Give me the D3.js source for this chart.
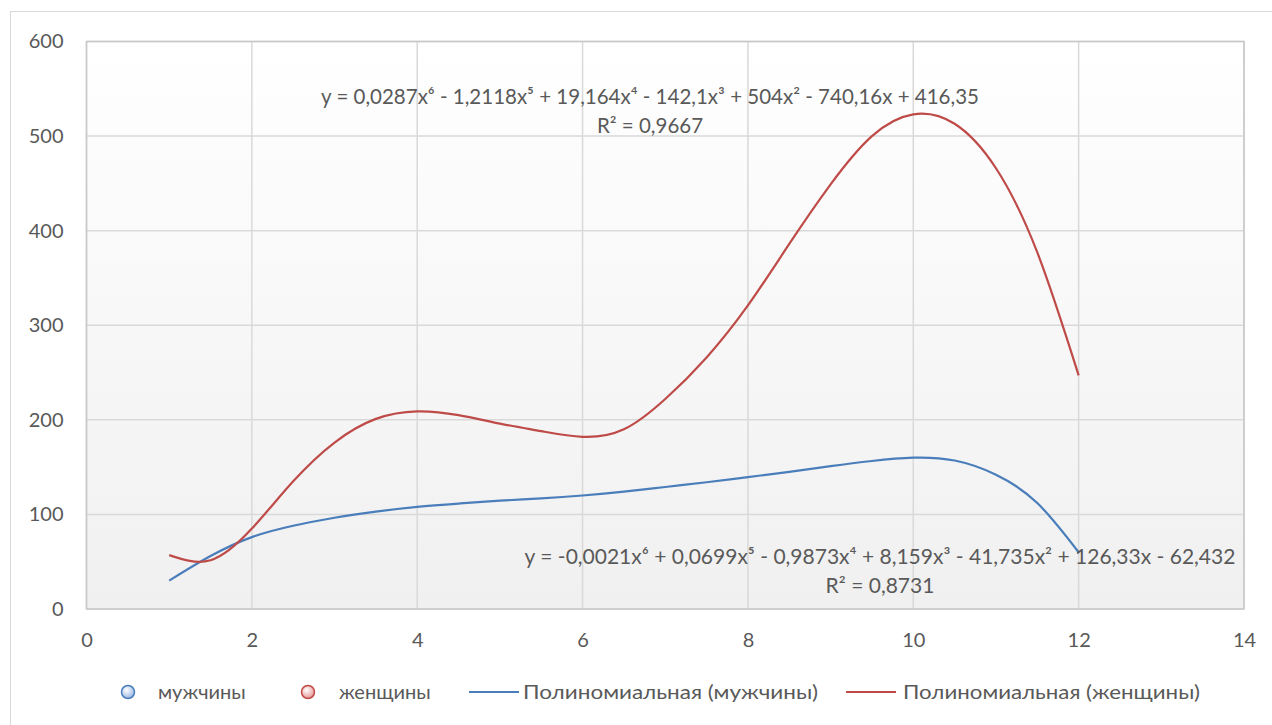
<!DOCTYPE html>
<html lang="ru">
<head>
<meta charset="UTF-8">
<title>Полиномиальные тренды</title>
<script src="https://cdn.jsdelivr.net/npm/d3@7"></script>
<style>
  body { margin: 0; background: #fff; }
  text { font-family: Lato, "Open Sans", sans-serif; fill: #595959; }
</style>
</head>
<body>
<div id="chart"></div>
<script>
// trend curves (x = 1..12, step 0.5)
var xValues   = [1, 1.5, 2, 2.5, 3, 3.5, 4, 4.5, 5, 5.5, 6, 6.5, 7, 7.5, 8, 8.5, 9, 9.5, 10, 10.5, 11, 11.5, 12];
var menTrend   = [30, 56, 76, 88, 96.5, 103, 108, 111.5, 114.5, 117, 120, 124, 129, 134, 139.5, 145, 151, 156.5, 160, 157, 142, 112, 60];
var womenTrend = [57, 51.5, 85, 135, 176, 201, 209, 205, 196, 188, 182, 190, 222, 266, 321, 386, 449, 500, 523, 513, 466, 377, 247];
var xTicks = [0, 2, 4, 6, 8, 10, 12, 14];
var yTicks = [0, 100, 200, 300, 400, 500, 600];
var seriesNames = ['мужчины', 'женщины'];
var trendNames = ['Полиномиальная (мужчины)', 'Полиномиальная (женщины)'];
var eqWomen = ['y = 0,0287x⁶ - 1,2118x⁵ + 19,164x⁴ - 142,1x³ + 504x² - 740,16x + 416,35', 'R² = 0,9667'];
var eqMen = ['y = -0,0021x⁶ + 0,0699x⁵ - 0,9873x⁴ + 8,159x³ - 41,735x² + 126,33x - 62,432', 'R² = 0,8731'];

var w = 1272, h = 725;
var blue = '#4a7ebb', red = '#be4b48';

var svg = d3.select('#chart').append('svg')
  .attr('width', w).attr('height', h);

var defs = svg.append('defs');
var grad = defs.append('linearGradient').attr('id', 'bg')
  .attr('x1', 0).attr('y1', 0).attr('x2', 0).attr('y2', 1);
grad.append('stop').attr('offset', '0%').attr('stop-color', '#ffffff');
grad.append('stop').attr('offset', '100%').attr('stop-color', '#f0f0f0');

function dotGrad(id, light) {
  var g = defs.append('radialGradient').attr('id', id)
    .attr('cx', '40%').attr('cy', '35%').attr('r', '65%');
  g.append('stop').attr('offset', '0%').attr('stop-color', '#ffffff');
  g.append('stop').attr('offset', '100%').attr('stop-color', light);
}
dotGrad('dotBlue', '#9bb8e3');
dotGrad('dotRed', '#e69896');

// outer chart frame
svg.append('rect')
  .attr('x', 10.5).attr('y', 11.5).attr('width', w + 10).attr('height', h + 10)
  .attr('fill', '#fff').attr('stroke', '#d9d9d9');

var pLeft = 86.5, pRight = 1244, pTop = 41.5, pBottom = 609;

var xScale = d3.scaleLinear().domain([0, 14]).range([pLeft, pRight]);
var yScale = d3.scaleLinear().domain([0, 600]).range([pBottom, pTop]);

svg.append('rect')
  .attr('x', pLeft).attr('y', pTop)
  .attr('width', pRight - pLeft).attr('height', pBottom - pTop)
  .attr('fill', 'url(#bg)');

// grid
var grid = svg.append('g').attr('stroke', '#d9d9d9').attr('stroke-width', 1.5);
grid.selectAll('line.v').data(xTicks).enter().append('line')
  .attr('x1', d => xScale(d)).attr('x2', d => xScale(d))
  .attr('y1', pTop).attr('y2', pBottom);
grid.selectAll('line.h').data(yTicks).enter().append('line')
  .attr('x1', pLeft).attr('x2', pRight)
  .attr('y1', d => yScale(d)).attr('y2', d => yScale(d));

// plot border
svg.append('rect')
  .attr('x', pLeft).attr('y', pTop)
  .attr('width', pRight - pLeft).attr('height', pBottom - pTop)
  .attr('fill', 'none').attr('stroke', '#c8c8c8').attr('stroke-width', 1.5);

// axes
var yAxis = d3.axisLeft(yScale).tickValues(yTicks).tickSize(0).tickPadding(23);
var xAxis = d3.axisBottom(xScale).tickValues(xTicks).tickSize(0).tickPadding(24);

svg.append('g').attr('class', 'y axis')
  .attr('transform', 'translate(' + pLeft + ',0)')
  .call(yAxis);
svg.append('g').attr('class', 'x axis')
  .attr('transform', 'translate(0,' + pBottom + ')')
  .call(xAxis);
svg.selectAll('.axis path').remove();
svg.selectAll('.axis text')
  .attr('font-family', 'Lato, sans-serif')
  .attr('font-size', 20).attr('fill', '#595959');

// trend lines
var line = d3.line()
  .x(d => xScale(d[0]))
  .y(d => yScale(d[1]))
  .curve(d3.curveNatural);

svg.append('path')
  .datum(xValues.map((x, i) => [x, menTrend[i]]))
  .attr('d', line).attr('fill', 'none')
  .attr('stroke', blue).attr('stroke-width', 2.2);

svg.append('path')
  .datum(xValues.map((x, i) => [x, womenTrend[i]]))
  .attr('d', line).attr('fill', 'none')
  .attr('stroke', red).attr('stroke-width', 2.2);

// equation labels
function eq(lines, cx, cy, size) {
  var t = svg.append('text').attr('text-anchor', 'middle').attr('font-size', size);
  lines.forEach((s, i) => {
    t.append('tspan').attr('x', cx).attr('y', cy + i * 29).text(s);
  });
}
eq(eqWomen, 650, 104, 20.5);
eq(eqMen, 880, 564, 21);

// legend
var lg = svg.append('g').attr('font-size', 20);
var ly = 692;
lg.append('circle').attr('cx', 128).attr('cy', ly).attr('r', 6.5)
  .attr('fill', 'url(#dotBlue)').attr('stroke', blue).attr('stroke-width', 1.5);
lg.append('text').attr('x', 158).attr('y', ly + 7).text(seriesNames[0]);
lg.append('circle').attr('cx', 308).attr('cy', ly).attr('r', 6.5)
  .attr('fill', 'url(#dotRed)').attr('stroke', red).attr('stroke-width', 1.5);
lg.append('text').attr('x', 339).attr('y', ly + 7).text(seriesNames[1]);
lg.append('line').attr('x1', 469).attr('x2', 519).attr('y1', ly).attr('y2', ly)
  .attr('stroke', blue).attr('stroke-width', 2.2);
lg.append('text').attr('x', 523).attr('y', ly + 7)
  .attr('textLength', 295).attr('lengthAdjust', 'spacingAndGlyphs').text(trendNames[0]);
lg.append('line').attr('x1', 846).attr('x2', 896).attr('y1', ly).attr('y2', ly)
  .attr('stroke', red).attr('stroke-width', 2.2);
lg.append('text').attr('x', 903).attr('y', ly + 7)
  .attr('textLength', 297).attr('lengthAdjust', 'spacingAndGlyphs').text(trendNames[1]);
</script>
</body>
</html>
